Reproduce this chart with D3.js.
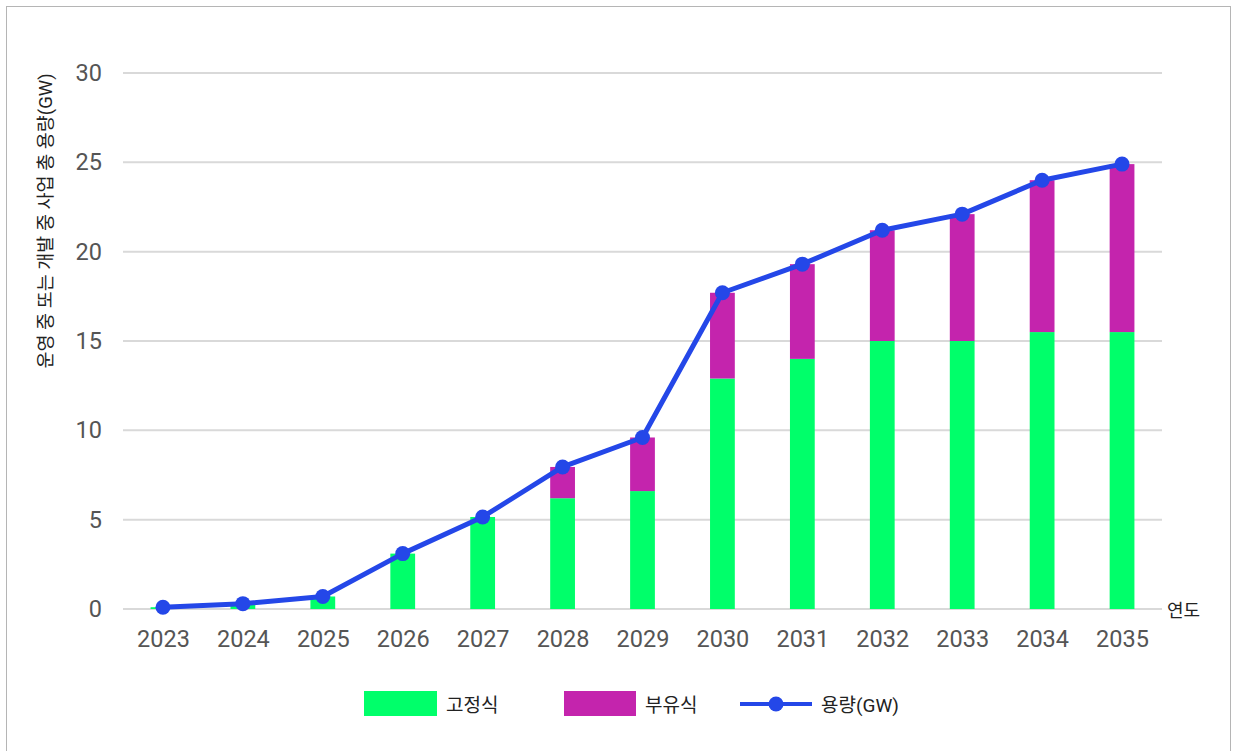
<!DOCTYPE html>
<html><head><meta charset="utf-8">
<script src="https://cdn.jsdelivr.net/npm/d3@7"></script>
<style>
body{margin:0;background:#fff;}
svg text{font-family:Roboto,"Noto Sans CJK KR",sans-serif;}
</style></head>
<body><svg id="c" width="1237" height="751"></svg>
<script>
const years = ["2023","2024","2025","2026","2027","2028","2029","2030","2031","2032","2033","2034","2035"];
const fixedVals = [0.1,0.3,0.7,3.1,5.15,6.2,6.6,12.9,14.0,15.0,15.0,15.5,15.5];
const floatingVals = [0,0,0,0,0,1.75,3.0,4.8,5.3,6.2,7.1,8.5,9.4];
const capacityVals = [0.1,0.3,0.7,3.1,5.15,7.95,9.6,17.7,19.3,21.2,22.1,24.0,24.9];
const yTicks = [0,5,10,15,20,25,30];
const seriesNames = ["고정식","부유식","용량(GW)"];
const colors = ["#00ff6a","#c424ad","#2447e8"];

const svg = d3.select("#c");
svg.append("rect").attr("x",6.5).attr("y",6.5).attr("width",1224).attr("height",800)
  .attr("fill","none").attr("stroke","#b5b5b5").attr("stroke-width",1);

const pL=123,pR=1162,pT=73,pB=609;
const x = d3.scaleBand().domain(years).range([pL,pR]).paddingInner(0.69).paddingOuter(0.345);
const xc = d3.scalePoint().domain(years).range([pL,pR]).padding(0.5);
const y = d3.scaleLinear().domain([0,30]).range([pB,pT]);

// gridlines
svg.append("g").selectAll("line").data(yTicks).join("line")
  .attr("x1",pL).attr("x2",pR).attr("y1",d=>y(d)).attr("y2",d=>y(d))
  .attr("stroke","#d9d9d9").attr("stroke-width",2);

// y axis
const ya = svg.append("g").attr("transform",`translate(${pL},0)`)
  .call(d3.axisLeft(y).tickValues(yTicks).tickSize(0).tickPadding(21));
ya.select(".domain").remove();
ya.selectAll("text").attr("font-size",23.5).attr("fill","#555").attr("font-family","Roboto");

// x axis
const xa = svg.append("g").attr("transform",`translate(0,${pB})`)
  .call(d3.axisBottom(xc).tickSize(0).tickPadding(21));
xa.select(".domain").remove();
xa.selectAll("text").attr("font-size",23.5).attr("fill","#555").attr("font-family","Roboto");

// stacked bars
const data = years.map((yr,i)=>({year:yr,fixed:fixedVals[i],floating:floatingVals[i]}));
const stack = d3.stack().keys(["fixed","floating"])(data);
svg.append("g").selectAll("g").data(stack).join("g")
  .attr("fill",(d,i)=>colors[i])
  .selectAll("rect").data(d=>d).join("rect")
  .attr("x",d=>x(d.data.year)).attr("width",x.bandwidth())
  .attr("y",d=>y(d[1])).attr("height",d=>Math.max(0,y(d[0])-y(d[1])));

// line
const line = d3.line().x((d,i)=>xc(years[i])).y(d=>y(d));
svg.append("path").datum(capacityVals).attr("d",line)
  .attr("fill","none").attr("stroke",colors[2]).attr("stroke-width",5).attr("stroke-linejoin","round");
svg.append("g").selectAll("circle").data(capacityVals).join("circle")
  .attr("cx",(d,i)=>xc(years[i])).attr("cy",d=>y(d)).attr("r",7.5).attr("fill",colors[2]);

// axis titles
svg.append("text").attr("transform",`translate(46,221) rotate(-90)`)
  .attr("text-anchor","middle").attr("dominant-baseline","central")
  .attr("font-size",18.5).attr("fill","#222").text("운영 중 또는 개발 중 사업 총 용량(GW)");
svg.append("text").attr("x",1167).attr("y",pB+1).attr("dominant-baseline","central")
  .attr("font-size",18).attr("fill","#222").text("연도");

// legend
const lg = svg.append("g");
lg.append("rect").attr("x",364).attr("y",691).attr("width",73).attr("height",25).attr("fill",colors[0]);
lg.append("text").attr("x",446).attr("y",705).attr("dominant-baseline","central").attr("font-size",19).attr("fill","#222").text(seriesNames[0]);
lg.append("rect").attr("x",564).attr("y",691).attr("width",72).attr("height",25).attr("fill",colors[1]);
lg.append("text").attr("x",645).attr("y",705).attr("dominant-baseline","central").attr("font-size",19).attr("fill","#222").text(seriesNames[1]);
lg.append("line").attr("x1",740).attr("x2",812).attr("y1",704).attr("y2",704).attr("stroke",colors[2]).attr("stroke-width",4);
lg.append("circle").attr("cx",776).attr("cy",704).attr("r",7.5).attr("fill",colors[2]);
lg.append("text").attr("x",821).attr("y",705).attr("dominant-baseline","central").attr("font-size",19).attr("fill","#222").text(seriesNames[2]);
</script></body></html>
